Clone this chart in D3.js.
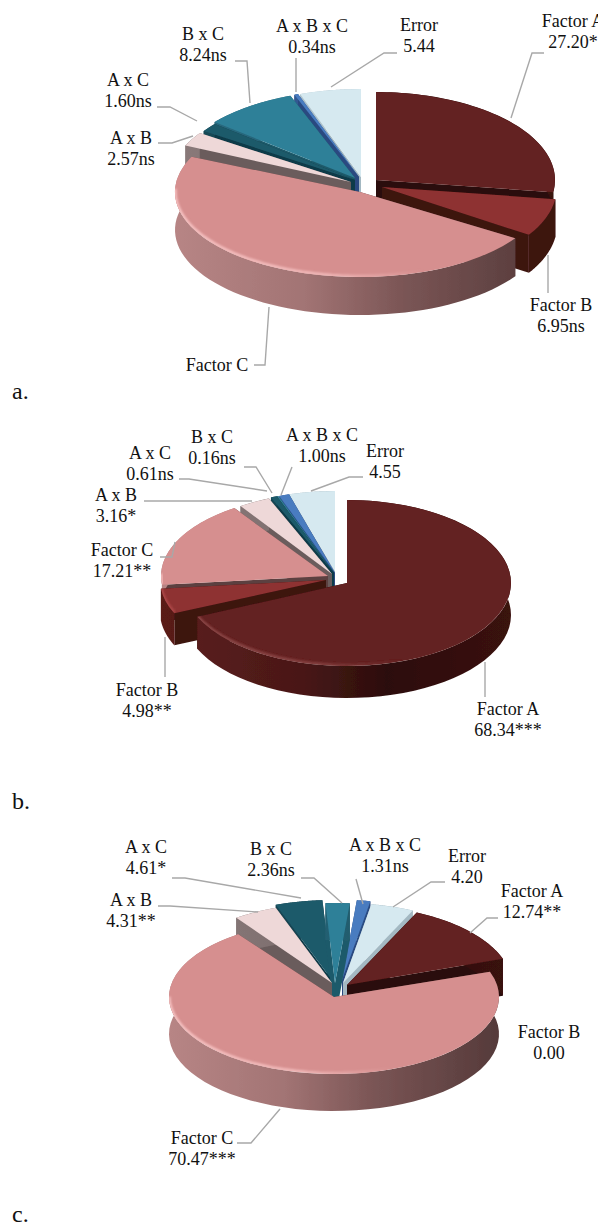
<!DOCTYPE html>
<html><head><meta charset="utf-8">
<script src="https://cdn.jsdelivr.net/npm/d3@7"></script>
<style>html,body{margin:0;padding:0;background:#fff}svg{display:block}</style>
</head><body><svg id="c" width="598" height="1226"></svg>
<script>
// ---- data ----
const categories = ["Factor A","Factor B","Factor C","A x B","A x C","B x C","A x B x C","Error"];
const valuesA = [27.20,6.95,47.66,2.57,1.60,8.24,0.34,5.44];
const valuesB = [68.34,4.98,17.21,3.16,0.61,0.16,1.00,4.55];
const valuesC = [12.74,0.00,70.47,4.31,4.61,2.36,1.31,4.20];
const textA = ["27.20*","6.95ns","","2.57ns","1.60ns","8.24ns","0.34ns","5.44"];
const textB = ["68.34***","4.98**","17.21**","3.16*","0.61ns","0.16ns","1.00ns","4.55"];
const textC = ["12.74**","0.00","70.47***","4.31**","4.61*","2.36ns","1.31ns","4.20"];
const panelNames = ["a.","b.","c."];

// ---- styling ----
const topColors  = ["#632020","#8e3232","#d68f8f","#eed8d8","#1f5a6a","#2f8098","#4a7cc0","#d6e9f0"];
const cutColors  = ["#2a0c0b","#3e1310","#5c4040","#6a5c5c","#0d3a48","#1f5a6a","#2a4a80","#a3b8c2"];
const wallLeft   = ["#5a1d1d","#5a1a18","#b78585","#8a7a7a","#174a58","#2a6a80","#35609a","#b5c8d0"];
const wallMid    = ["#2c0e0c","#3e1310","#7a5555","#6a5c5c","#0d3a48","#1f5a6a","#2a4a80","#a3b8c2"];
const wallRight  = ["#3a1210","#3e1310","#553a3a","#6a5c5c","#0d3a48","#1f5a6a","#2a4a80","#a3b8c2"];
const rimColors  = ["#8f4a4a","#b04a4a","#f8c4c4",null,null,null,null,null];
const serif = "'Liberation Serif','Times New Roman',serif";

// ---- layout ----
const panels = [
 {values:valuesA,text:textA,start:0,depth:38,labelY:393,
  rxs:[179,175,185,182,182,182,182,182], rys:[88,88,85,88,88,88,88,88],
  apex:[[376,180],[382,187],[360,192],[351,182],[355,180],[355,178],[359,177],[361,177]],
  label:[[573,21],[561,305],[217,365],[131,138],[128,80],[203,34],[312,26],[419,25]],
  leader:[[[544,53],[532,53],[511,118]],[[548,293],[548,255]],[[254,365],[265,365],[269,307]],
          [[158,143],[172,143],[193,136]],[[157,107],[170,107],[197,121]],[[235,61],[247,61],[250,103]],
          [[296,58],[296,92]],[[397,53],[384,53],[331,87]]]},
 {values:valuesB,text:textB,start:0,depth:32,labelY:803,
  rxs:[164,166,167,163,163,163,163,163], rys:[83,82,82,82,82,82,82,80],
  apex:[[347,583],[326,580],[328,576],[332,574],[334,573],[334,573],[335,573],[335,571]],
  label:[[508,709],[147,690],[122,550],[116,495],[150,453],[212,437],[322,435],[385,451]],
  leader:[[[485,697],[485,662]],[[165,677],[165,637]],[[160,557],[172,557],[175,542]],
          [[144,501],[252,501]],[[179,479],[189,479],[267,491]],[[244,467],[256,467],[272,493]],
          [[292,467],[281,495]],[[363,477],[349,477],[311,491]]]},
 {values:valuesC,text:textC,start:25,depth:37,labelY:1216,
  rxs:[165,165,165,165,165,165,165,165], rys:[80,80,77,80,80,80,80,80],
  apex:[[347,985],[347,985],[334,997],[332,983],[332,980],[335,983],[342,980],[343,983]],
  label:[[532,891],[549,1032],[202,1138],[131,900],[146,847],[271,849],[385,845],[467,856]],
  leader:[[[498,918],[487,918],[470,933]],null,[[237,1143],[251,1143],[280,1109]],
          [[158,906],[170,906],[258,912]],[[172,878],[185,878],[301,898]],[[301,878],[314,878],[342,903]],
          [[356,879],[363,904]],[[445,882],[431,882],[393,907]]]}
];

const svg = d3.select("#c");
const defs = svg.append("defs");
const blur = defs.append("filter").attr("id","soft").attr("x","-5%").attr("y","-5%").attr("width","110%").attr("height","110%");
blur.append("feGaussianBlur").attr("stdDeviation",0.6);
const blur2 = defs.append("filter").attr("id","rimBlur").attr("x","-10%").attr("y","-10%").attr("width","120%").attr("height","120%");
blur2.append("feGaussianBlur").attr("stdDeviation",0.9);

const unitArc = d3.arc().innerRadius(0).outerRadius(1);
const lineGen = d3.line();
const deg = Math.PI/180;

panels.forEach((p,pi)=>{
  const pie = d3.pie().sort(null).value(d=>d).startAngle(p.start*deg).endAngle(p.start*deg+2*Math.PI);
  const arcs = pie(p.values).map((a,i)=>({...a,i}));
  const pt = (i,t,dy=0)=>[p.apex[i][0]+p.rxs[i]*Math.sin(t),p.apex[i][1]-p.rys[i]*Math.cos(t)+dy];
  const mid = a=>p.apex[a.i][1]-p.rys[a.i]*Math.cos((a.startAngle+a.endAngle)/2);
  const order = arcs.filter(a=>a.value>0).sort((x,y)=>mid(x)-mid(y));

  const g = svg.append("g").attr("filter","url(#soft)");
  order.forEach(a=>{
    const i=a.i, rx=p.rxs[i], ry=p.rys[i];
    const apex=p.apex[i];
    const steps=d3.range(0,61).map(k=>a.startAngle+(a.endAngle-a.startAngle)*k/60);
    const gid=`wall${pi}_${i}`;
    const grad=defs.append("linearGradient").attr("id",gid).attr("gradientUnits","userSpaceOnUse")
      .attr("x1",apex[0]-rx).attr("x2",apex[0]+rx).attr("y1",0).attr("y2",0);
    grad.append("stop").attr("offset",0).attr("stop-color",wallLeft[i]);
    grad.append("stop").attr("offset",.35).attr("stop-color",d3.interpolateRgb(wallLeft[i],wallMid[i])(.35));
    grad.append("stop").attr("offset",.62).attr("stop-color",wallMid[i]);
    grad.append("stop").attr("offset",1).attr("stop-color",wallRight[i]);
    // radial cut faces
    [a.startAngle,a.endAngle].forEach(t=>{
      const o=pt(i,t);
      g.append("path").attr("fill",cutColors[i]).attr("d",lineGen([apex,o,[o[0],o[1]+p.depth],[apex[0],apex[1]+p.depth]])+"Z");
    });
    // outer wall
    const wall=steps.map(t=>pt(i,t)).concat(steps.slice().reverse().map(t=>pt(i,t,p.depth)));
    g.append("path").attr("fill",`url(#${gid})`).attr("d",lineGen(wall)+"Z");
    // top face
    const faceD=unitArc(a), faceT=`translate(${apex[0]},${apex[1]}) scale(${rx},${ry})`;
    g.append("path").attr("fill",topColors[i]).attr("transform",faceT).attr("d",faceD);
    // bevel highlight along the front rim, kept inside the top face
    if(rimColors[i]){
      const vis=steps.filter(t=>{const m=((t/deg)%360+360)%360;return m>95&&m<272;});
      if(vis.length>1){
        const cid=`clip${pi}_${i}`;
        defs.append("clipPath").attr("id",cid).append("path").attr("transform",faceT).attr("d",faceD);
        const rid=`rim${pi}_${i}`;
        const rg=defs.append("linearGradient").attr("id",rid).attr("gradientUnits","userSpaceOnUse")
          .attr("x1",apex[0]-rx).attr("x2",apex[0]+rx*.35).attr("y1",0).attr("y2",0);
        rg.append("stop").attr("offset",0).attr("stop-color",rimColors[i]);
        rg.append("stop").attr("offset",.6).attr("stop-color",rimColors[i]).attr("stop-opacity",.8);
        rg.append("stop").attr("offset",1).attr("stop-color",rimColors[i]).attr("stop-opacity",0);
        g.append("g").attr("clip-path",`url(#${cid})`).append("path").attr("fill","none")
          .attr("stroke",`url(#${rid})`).attr("stroke-width",3)
          .attr("filter","url(#rimBlur)").attr("d",lineGen(vis.map(t=>pt(i,t,-0.8))));
      }
    }
  });

  // leader lines
  p.leader.forEach(l=>{ if(l) svg.append("path").attr("fill","none").attr("stroke","#a8a8a8").attr("stroke-width",1.4).attr("d",lineGen(l)); });

  // labels
  categories.forEach((c,i)=>{
    const [x,y]=p.label[i];
    const t=svg.append("text").attr("x",x).attr("y",y+5.5).attr("text-anchor","middle")
      .attr("font-family",serif).attr("font-size",18).attr("fill","#111");
    t.append("tspan").text(c);
    if(p.text[i]) t.append("tspan").attr("x",x).attr("dy",21.5).text(p.text[i]);
  });
  svg.append("text").attr("x",12).attr("y",p.labelY+6).attr("font-family",serif).attr("font-size",24).attr("fill","#111").text(panelNames[pi]);
});
</script></body></html>
